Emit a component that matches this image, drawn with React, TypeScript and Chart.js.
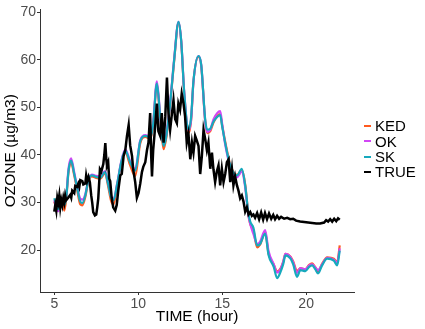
import { useEffect, useRef } from "react";
import { Chart, registerables } from "chart.js";
Chart.register(...registerables);

const FONT = "'Liberation Sans', Arial, Helvetica, sans-serif";

const xTicks = [5, 10, 15, 20];
const yTicks = [20, 30, 40, 50, 60, 70];

const seriesLabels = ["KED", "OK", "SK", "TRUE"];
const seriesColors = ["#FF5A1F", "#D247F5", "#17A9BD", "#000000"];

const predT = [5.0, 5.16, 5.24, 5.36, 5.46, 5.6, 5.71, 5.85, 6.0, 6.19, 6.35, 6.55, 6.67, 6.85, 7.02, 7.24, 7.5, 7.74, 8.02, 8.2, 8.39, 8.53, 8.75, 8.99, 9.23, 9.52, 9.82, 10.12, 10.42, 10.71, 10.89, 11.11, 11.31, 11.51, 11.67, 11.9, 12.14, 12.4, 12.56, 12.74, 13.0, 13.15, 13.29, 13.59, 13.75, 13.99, 14.11, 14.29, 14.48, 14.7, 14.88, 15.0, 15.18, 15.48, 15.88, 16.17, 16.37, 16.55, 16.67, 16.86, 17.08, 17.26, 17.56, 17.76, 18.07, 18.27, 18.47, 18.63, 18.77, 19.07, 19.23, 19.46, 19.66, 19.96, 20.18, 20.36, 20.54, 20.71, 20.95, 21.25, 21.65, 21.85, 22.0];

const skVals = [30.9, 29.2, 28.6, 30.2, 30.6, 29.5, 31, 36.7, 38.8, 36, 33.3, 30.2, 29.9, 31.5, 34.5, 35.7, 35.4, 35.2, 36.4, 34, 31, 30.5, 34, 38.5, 40.9, 38.4, 36.7, 42.9, 44, 43.6, 46.5, 55, 48, 41.9, 44, 50.8, 60, 68, 64, 53, 45.3, 48, 55.6, 60.8, 59, 47.4, 45.3, 45.5, 47, 48, 48.4, 46, 42.5, 37.8, 35.7, 37.1, 33.6, 28, 26, 24.7, 21, 21.3, 23.5, 19, 16.5, 14.1, 15.4, 17, 18.9, 18.2, 17, 14.4, 15.8, 15.6, 16.5, 16.8, 16, 15.1, 16.8, 18.2, 17.8, 16.8, 19.9];

const okVals = [30.5, 28.4, 28.2, 30.6, 30.9, 29.8, 31.3, 37.2, 39.3, 36.3, 33.5, 30.8, 30.6, 31.8, 34.6, 35.9, 35.6, 35.5, 36.6, 34.2, 31.3, 30.7, 34.1, 38.7, 41.2, 38.7, 37, 43.1, 44.2, 43.9, 46.8, 55.5, 48.3, 42.2, 44.3, 51, 60.2, 68, 64, 53.2, 45.2, 47.5, 55.4, 60.8, 59, 47, 44.8, 45.3, 47.5, 48.8, 49.2, 46.5, 42.2, 37.6, 35.3, 36.5, 33.2, 27.5, 25.5, 23.4, 21.3, 21.8, 24.2, 19.8, 17, 15.3, 16, 17.5, 19.2, 18.5, 17.4, 15.2, 16.2, 16, 16.8, 17, 16.4, 15.8, 17, 18.4, 18, 17.3, 20.4];

const kedVals = [30.2, 28.6, 28.4, 30.4, 30.5, 28.3, 30.7, 36.5, 38.4, 35.7, 32.9, 29.6, 29.4, 31.2, 34.3, 35.5, 35.2, 35, 36.2, 33.6, 30.3, 29.6, 33.6, 38.3, 40.6, 37.8, 35.6, 42.5, 43.8, 43.4, 46.2, 54.8, 47.5, 41.2, 43.6, 50.6, 59.8, 67.8, 63.8, 52.8, 44.6, 47.3, 55.5, 60.6, 58.8, 47, 44.6, 45, 46.8, 48.2, 48.6, 46.2, 42.8, 38, 35.8, 36.8, 33.8, 27.8, 25.5, 24.2, 20.6, 21.2, 23.8, 19.3, 17, 15.5, 16.1, 17.5, 19.2, 18.6, 17.6, 15.6, 16.2, 16, 16.9, 17.2, 16.4, 15.6, 17.1, 18.5, 18.2, 17.5, 21];

const trueT = [5.00, 5.06, 5.12, 5.18, 5.24, 5.30, 5.36, 5.42, 5.48, 5.54, 5.60, 5.65, 5.71, 5.83, 5.95, 6.01, 6.07, 6.19, 6.25, 6.35, 6.43, 6.49, 6.55, 6.67, 6.73, 6.85, 6.90, 6.96, 7.04, 7.12, 7.20, 7.26, 7.32, 7.42, 7.50, 7.56, 7.62, 7.72, 7.80, 7.92, 7.98, 8.04, 8.10, 8.14, 8.21, 8.27, 8.33, 8.42, 8.51, 8.63, 8.72, 8.81, 8.93, 9.02, 9.13, 9.23, 9.33, 9.43, 9.52, 9.63, 9.70, 9.82, 9.92, 10.02, 10.12, 10.22, 10.30, 10.42, 10.52, 10.61, 10.71, 10.77, 10.82, 10.89, 11.01, 11.11, 11.20, 11.31, 11.40, 11.51, 11.61, 11.71, 11.80, 11.90, 12.01, 12.10, 12.20, 12.30, 12.39, 12.49, 12.59, 12.69, 12.79, 12.89, 12.99, 13.10, 13.20, 13.29, 13.39, 13.49, 13.59, 13.69, 13.79, 13.89, 13.99, 14.09, 14.18, 14.29, 14.39, 14.48, 14.58, 14.68, 14.78, 14.88, 14.98, 15.08, 15.18, 15.28, 15.38, 15.48, 15.58, 15.67, 15.77, 15.88, 15.97, 16.07, 16.17, 16.27, 16.37, 16.47, 16.57, 16.67, 16.77, 16.86, 16.96, 17.08, 17.20, 17.32, 17.44, 17.55, 17.67, 17.79, 17.92, 18.04, 18.15, 18.27, 18.39, 18.51, 18.69, 18.87, 19.05, 19.23, 19.40, 19.64, 19.88, 20.12, 20.36, 20.60, 20.83, 21.07, 21.19, 21.31, 21.43, 21.55, 21.67, 21.79, 21.90, 22.00];

const trueVals = [28.1, 29.5, 28.3, 31, 30, 31.5, 29, 30.5, 29.5, 31, 30, 31.5, 30.5, 31, 31.6, 31, 32.5, 32, 33.5, 33.3, 34, 33.3, 34.7, 34.5, 33.8, 34, 35.7, 34.5, 35.4, 34.3, 31.5, 30, 28, 27.3, 27.5, 29, 30.9, 37, 36.5, 38.1, 40, 42.5, 39, 37.8, 38.5, 35, 34.5, 31, 29, 28.3, 29.5, 32.5, 35.7, 36, 39.8, 41, 44, 46.3, 42, 39.8, 37, 34.3, 31, 32, 34, 36.4, 37.5, 38.5, 41, 42.6, 48.8, 40, 35.5, 41, 46, 50.8, 45, 44, 48.8, 42.6, 48, 56.3, 48.8, 45.3, 48.8, 51.5, 47.5, 46.7, 50.8, 49.5, 52.9, 51, 48.1, 42.6, 44.5, 39.1, 42.6, 40.5, 44, 43, 41.9, 36, 39.8, 45.3, 43.3, 41, 42.6, 37.1, 40.5, 37, 34.3, 36.5, 37.8, 33.6, 37.1, 34.3, 36, 38.5, 39.1, 34.3, 37.1, 33.6, 35.5, 33.6, 32.5, 30.9, 31.5, 30.2, 28.1, 29, 27.5, 28, 27.2, 27.5, 26.8, 27.8, 26.5, 27.9, 26.4, 27.8, 26.5, 27.7, 26.6, 27.4, 26.5, 27.2, 26.6, 27, 26.6, 26.8, 26.5, 26.6, 26.2, 26, 25.9, 25.8, 25.7, 25.6, 25.6, 25.8, 26.3, 26, 26.5, 26, 26.6, 26.1, 26.7, 26.4];

export default function App() {
  const ref = useRef<HTMLCanvasElement>(null);

  useEffect(() => {
    const pred = (vals: number[]) => predT.map((t, i) => ({ x: t, y: vals[i] }));
    const chart = new Chart(ref.current as HTMLCanvasElement, {
      type: "line",
      data: {
        datasets: [
          {
            label: "TRUE",
            data: trueT.map((t, i) => ({ x: t, y: trueVals[i] })),
            borderColor: seriesColors[3],
            borderWidth: 2.5,
            pointRadius: 0,
            tension: 0,
            order: 0,
          },
          {
            label: "SK",
            data: pred(skVals),
            borderColor: seriesColors[2],
            borderWidth: 2.2,
            pointRadius: 0,
            cubicInterpolationMode: "monotone",
            order: 1,
          },
          {
            label: "OK",
            data: pred(okVals),
            borderColor: seriesColors[1],
            borderWidth: 2.2,
            pointRadius: 0,
            cubicInterpolationMode: "monotone",
            order: 2,
          },
          {
            label: "KED",
            data: pred(kedVals),
            borderColor: seriesColors[0],
            borderWidth: 2.2,
            pointRadius: 0,
            cubicInterpolationMode: "monotone",
            order: 3,
          },
        ],
      },
      options: {
        responsive: false,
        animation: false,
        events: [],
        layout: { padding: { left: 0, top: 4, right: 71, bottom: 0 } },
        plugins: { legend: { display: false }, tooltip: { enabled: false } },
        scales: {
          x: {
            type: "linear",
            min: 4.15,
            max: 22.85,
            afterBuildTicks: (s: any) => {
              s.ticks = xTicks.map((v) => ({ value: v }));
            },
            afterFit: (s: any) => {
              s.height = 37;
            },
            grid: { display: true, drawOnChartArea: false, drawTicks: true, tickLength: 3, color: "#333333" },
            border: { display: true, color: "#333333", width: 1 },
            ticks: { color: "#4D4D4D", font: { family: FONT, size: 14 }, padding: 1, maxRotation: 0 },
            title: {
              display: true,
              text: "TIME (hour)",
              color: "#000000",
              font: { family: FONT, size: 15.5 },
              padding: { top: 0, bottom: 3 },
            },
          },
          y: {
            type: "linear",
            min: 11.2,
            max: 70.6,
            afterBuildTicks: (s: any) => {
              s.ticks = yTicks.map((v) => ({ value: v }));
            },
            afterFit: (s: any) => {
              s.width = 40;
            },
            grid: { display: true, drawOnChartArea: false, drawTicks: true, tickLength: 3, color: "#333333" },
            border: { display: true, color: "#333333", width: 1 },
            ticks: { color: "#4D4D4D", font: { family: FONT, size: 14 }, padding: 1 },
            title: {
              display: true,
              text: "OZONE (µg/m3)",
              color: "#000000",
              font: { family: FONT, size: 15.5 },
              padding: { top: 1, bottom: 0 },
            },
          },
        },
      },
    });
    return () => chart.destroy();
  }, []);

  return (
    <div style={{ position: "absolute", left: 0, top: 0, width: 425, height: 329, background: "#ffffff" }}>
      <canvas ref={ref} width={425} height={329} style={{ display: "block", width: 425, height: 329 }} />
      <div style={{ position: "absolute", left: 364, top: 118.3, fontFamily: FONT, fontSize: 15, color: "#000" }}>
        {seriesLabels.map((l, i) => (
          <div key={l} style={{ display: "flex", alignItems: "center", height: 15.3, lineHeight: "15.3px" }}>
            <span style={{ display: "inline-block", width: 7, height: 2, background: seriesColors[i], marginRight: 4 }} />
            <span>{l}</span>
          </div>
        ))}
      </div>
    </div>
  );
}
